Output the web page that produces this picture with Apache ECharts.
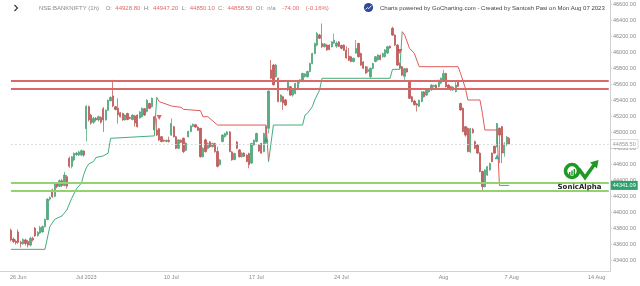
<!DOCTYPE html>
<html><head><meta charset="utf-8">
<script src="https://cdn.jsdelivr.net/npm/echarts@6/dist/echarts.min.js"></script>
<style>html,body{margin:0;padding:0;background:#fff}#c{width:640px;height:286px}</style>
</head><body><div id="c"></div>
<script>
// ---- trading calendar (1h bars, NSE) ----
const tradingDays = ['2023-06-23','2023-06-26','2023-06-27','2023-06-28','2023-06-30',
 '2023-07-03','2023-07-04','2023-07-05','2023-07-06','2023-07-07',
 '2023-07-10','2023-07-11','2023-07-12','2023-07-13','2023-07-14',
 '2023-07-17','2023-07-18','2023-07-19','2023-07-20','2023-07-21',
 '2023-07-24','2023-07-25','2023-07-26','2023-07-27','2023-07-28',
 '2023-07-31','2023-08-01','2023-08-02','2023-08-03','2023-08-04',
 '2023-08-07','2023-08-08','2023-08-09','2023-08-10','2023-08-11','2023-08-14'];
const barTimes = ['09:15','10:15','11:15','12:15','13:15','14:15','15:15'];
const visibleBars = 251;
const firstBar = '2023-06-23 13:15';
const tickLabels = {
 '2023-06-26 09:15':'26 Jun','2023-07-03 09:15':'Jul 2023','2023-07-10 09:15':'10 Jul',
 '2023-07-17 09:15':'17 Jul','2023-07-24 09:15':'24 Jul','2023-08-01 09:15':'Aug',
 '2023-08-07 09:15':'7 Aug','2023-08-14 09:15':'14 Aug'};
const yTicks = [43400,43600,43800,44000,44200,44400,44600,44800,45000,45200,45400,45600,45800,46000,46200,46400,46600];

// ---- OHLC [open, close, low, high] per 1h bar, by week ----
const wkJun23 = [
 [43780,43660,43640,43800],[43670,43640,43620,43690],[43645,43625,43600,43665],
 [43760,43630,43610,43790],[43630,43615,43565,43650],[43610,43665,43600,43680],[43660,43615,43590,43675],
 [43640,43595,43565,43660],[43595,43680,43580,43700],[43680,43660,43640,43700],
 [43805,43710,43700,43820],[43715,43755,43700,43770],[43745,43815,43735,43835],[43760,43825,43750,43840],
 [43825,43915,43815,43925],[43915,44170,43905,44180],[44170,44190,44150,44205],
 [44285,44200,44185,44300],[44205,44360,44195,44380],[44360,44325,44305,44375],[44330,44400,44320,44415],
 [44400,44340,44320,44420],[44340,44470,44330,44510],[44450,44330,44300,44470],
 [44680,44580,44560,44700],[44580,44700,44555,44710],[44660,44740,44640,44755],[44725,44745,44710,44760],
 [44720,44760,44710,44775],[44720,44775,44710,44790],[44770,44720,44700,44780]];
const wkJul03 = [
 [45050,45330,44890,45345],[45325,45160,45140,45340],[45220,45120,45100,45235],[45130,45180,45110,45200],
 [45180,45160,45140,45195],[45160,45200,45140,45215],[45190,45130,45115,45205],
 [45300,45160,45010,45320],[45160,45280,45150,45290],[45280,45405,45270,45415],[45400,45440,45390,45455],
 [45460,45335,45320,45660],[45325,45290,45280,45335],[45305,45225,45115,45430],
 [45250,45200,45190,45260],[45240,45160,45150,45250],[45160,45220,45150,45230],[45240,45165,45155,45250],
 [45190,45180,45170,45200],[45165,45220,45155,45230],[45210,45120,45075,45220],
 [45220,45075,45065,45230],[45185,45260,45175,45270],[45200,45305,45190,45315],[45300,45220,45210,45310],
 [45265,45405,45255,45420],[45365,45305,45295,45375],[45325,45430,45315,45440],
 [45200,45035,45020,45210],[45035,44970,44960,45180],[45050,44910,44895,45060],[44950,44890,44880,44960],
 [44905,44895,44885,44915],[44890,44905,44880,44915],[44905,44890,44875,44950]];
const wkJul10 = [
 [44970,45115,44960,45180],[45075,44950,44940,45085],[44950,44805,44795,44960],[44805,44910,44795,44920],
 [44905,44880,44870,44915],[44930,44765,44745,44940],[44780,44870,44770,44880],
 [44950,45015,44940,45025],[45015,45085,45005,45095],[45080,45105,45070,45115],[45100,45070,45060,45110],
 [45070,45030,45020,45080],[45055,44700,44690,45060],[44700,44805,44690,44820],
 [44910,44765,44750,44925],[44805,44865,44790,44880],[44885,44825,44810,44895],[44825,44865,44815,44875],
 [44865,44765,44750,44875],[44765,44580,44565,44825],[44600,44660,44590,44670],
 [44890,44970,44880,44980],[44950,44990,44940,45000],[44975,45010,44965,45020],[45010,44765,44755,45020],
 [44760,44660,44650,44770],[44665,44740,44655,44750],[44885,44805,44795,44895],
 [44785,44700,44690,44795],[44700,44745,44690,44755],[44745,44705,44695,44755],[44720,44640,44630,44730],
 [44740,44600,44555,44750],[44620,44865,44610,44875],[44845,44905,44840,44915]];
const wkJul17 = [
 [44890,44990,44880,45000],[44845,44770,44760,44855],[44865,44745,44735,44875],[44765,44990,44755,45000],
 [44870,45075,44860,45090],[45055,45520,44990,45530],[45785,45680,45670,45910],
 [45845,45600,45590,45860],[45700,45845,45690,45860],[45680,45390,45380,45690],[45390,45470,45380,45480],
 [45450,45370,45285,45460],[45410,45345,45335,45420],[45535,45640,45520,45650],
 [45575,45470,45460,45585],[45470,45535,45450,45545],[45490,45615,45480,45625],[45555,45640,45545,45650],
 [45640,45660,45615,45670],[45640,45740,45630,45750],[45700,45735,45690,45745],
 [45700,45765,45690,45775],[45765,45865,45755,45875],[45865,45990,45855,46000],[45990,46115,45980,46125],
 [46095,46240,46080,46260],[46220,46180,46170,46235],[46115,46075,46060,46365],
 [46075,46110,46065,46120],[46095,46035,46025,46105],[46095,46040,46030,46105],[46075,46135,46065,46145],
 [46120,46155,46110,46240],[46080,46120,46060,46140],[46135,46080,46070,46145]];
const wkJul24 = [
 [46090,46055,46040,46100],[46095,46030,46020,46105],[46030,45935,45925,46080],[45955,45905,45895,46060],
 [45950,45890,45880,45960],[45890,45930,45880,45940],[45995,46055,45985,46160],
 [46115,45950,45940,46125],[45990,45845,45835,46000],[45885,45805,45795,45895],[45825,45745,45735,45835],
 [45765,45790,45750,45830],[45700,45805,45680,45815],[45805,45865,45795,45875],
 [45890,45950,45880,45960],[45910,45970,45900,45980],[45965,45915,45905,45980],[45950,45990,45940,46000],
 [45950,46035,45940,46045],[45995,46075,45985,46085],[46080,46060,46050,46090],
 [46305,46220,46210,46325],[46220,46095,46085,46230],[46095,45845,45835,46105],[45865,45805,45795,45875],
 [45825,45720,45710,45835],[45705,45800,45660,45810],[45800,45760,45750,45810],
 [45640,45430,45420,45650],[45450,45390,45380,45460],[45395,45350,45340,45410],[45360,45345,45265,45370],
 [45330,45405,45320,45415],[45390,45510,45380,45520],[45510,45450,45440,45520]];
const wkJul31 = [
 [45470,45530,45460,45540],[45510,45550,45500,45560],[45535,45595,45525,45605],[45575,45590,45565,45600],
 [45595,45555,45545,45605],[45575,45655,45565,45665],[45620,45680,45610,45690],
 [45660,45740,45650,45785],[45740,45575,45565,45750],[45595,45555,45545,45605],[45575,45535,45525,45585],
 [45535,45570,45525,45580],[45515,45595,45505,45640],[45640,45580,45570,45650],
 [45365,45285,45275,45375],[45305,45015,45005,45315],[45075,44970,44950,45085],[45055,44765,44755,45065],
 [44760,45050,44745,45060],[45040,45000,44990,45060],[44890,44805,44795,44900],
 [44845,44745,44735,44855],[44745,44515,44505,44755],[44515,44325,44285,44525],[44325,44535,44315,44545],
 [44470,44575,44460,44585],[44535,44615,44525,44625],[44745,44640,44630,44750],
 [44830,44745,44735,44840],[44825,45115,44815,45120],[45055,44970,44620,45065],[45075,44745,44620,45085],
 [44745,44860,44700,44880],[44860,44945,44830,44960],[44928.8,44858.5,44850.1,44947.2]];

// ---- SuperTrend vertices [barIndex from 26 Jun 09:15, value] ----
const stUp1 = [[-3,43542],[11,43542],[13,43825],[15,43917],[18,43959],[20,44034],[22,44180],[24,44300],[26,44370],[27,44480],[28,44560],[29,44609],[31,44640],[32,44690],[35,44710],[37,44745],[38,44930],[56,44960],[57,45442]];
const stDown1 = [[57,45442],[58,45388],[60,45367],[63,45334],[67,45317],[68,45292],[75,45275],[76,45200],[78,45200],[82,45096],[102,45096],[103,44638]];
const stUp2 = [[103,44638],[105,45096],[117,45096],[118,45221],[119,45242],[121,45325],[122,45409],[124,45534],[125,45680],[153,45680],[154,45792],[157,45792],[158,46263]];
const stDown2 = [[158,46263],[159,46221],[161,46055],[163,45992],[165,45825],[181,45825],[182,45742],[184,45555],[185,45409],[190,45409],[191,45242],[192,45034],[197,45034],[198,44341.09]];
const stUp3 = [[198,44341.09],[202,44341.09]];
const buySignals = [[102,44917],[197,44700]];
const sellSignals = [[58,45190],[157,46015]];
const resistance = [45645,45545];
const support = [44370,44270];
const lastClose = 44858.5;
const stLast = 44341.09;

// ---- build ----
const cats = [];
tradingDays.forEach(d => barTimes.forEach(t => cats.push(d + ' ' + t)));
cats.length = visibleBars;
const zero = cats.indexOf('2023-06-26 09:15');
const cat = i => cats[zero + i];
const start = cats.indexOf(firstBar);
const bars = [].concat(wkJun23, wkJul03, wkJul10, wkJul17, wkJul24, wkJul31);
const candleData = cats.map((c, k) => (k >= start && k - start < bars.length) ? bars[k - start] : '-');
const toXY = arr => arr.map(p => [cat(p[0]), p[1]]);
const lastCat = cats[cats.length - 1];
const FONT = 'Liberation Sans, Arial, sans-serif';
const UP = '#44ad7d', DN = '#e25a5a';

function hLine(v, color, w) {
  return [{coord: [firstBar, v], lineStyle: {color, width: w, type: 'solid'}}, {coord: [lastCat, v]}];
}
function stSeries(data, color) {
  return {type: 'line', data: toXY(data), symbol: 'none', animation: false, z: 3,
    lineStyle: {color, width: 1}, silent: true};
}

const option = {
  animation: false,
  backgroundColor: '#fff',
  grid: {left: 0, right: 30, top: 0, bottom: 14.5, containLabel: false, outerBoundsMode: 'none'},
  xAxis: {
    type: 'category', data: cats, boundaryGap: true,
    axisLine: {lineStyle: {color: '#cfd3d8'}},
    axisTick: {alignWithLabel: true, length: 3, interval: (i, v) => tickLabels[v] !== undefined, lineStyle: {color: '#cfd3d8'}},
    axisLabel: {interval: (i, v) => tickLabels[v] !== undefined, formatter: v => tickLabels[v] || '',
      fontSize: 5.5, color: '#888', margin: 2.5, fontFamily: FONT},
    splitLine: {show: false}
  },
  yAxis: {
    type: 'value', position: 'right', min: 43265, max: 46658.75, scale: true,
    axisLine: {show: true, lineStyle: {color: '#cfd3d8'}},
    axisTick: {show: true, length: 2, customValues: yTicks, lineStyle: {color: '#cfd3d8'}},
    axisLabel: {customValues: yTicks, formatter: v => v.toFixed(2), fontSize: 5.5, color: '#888', margin: 3, fontFamily: FONT},
    splitLine: {show: false}
  },
  series: [
    {type: 'candlestick', data: candleData, barWidth: 1.8, z: 2,
      itemStyle: {color: '#3c9d6c', color0: '#b84545', borderColor: '#3c9d6c', borderColor0: '#b84545', borderWidth: 0.8, opacity: 0.85},
      markLine: {symbol: 'none', silent: true, animation: false, z: 4,
        label: {show: false},
        data: [
          hLine(resistance[0], '#d96a6c', 2), hLine(resistance[1], '#d96a6c', 2),
          hLine(support[0], '#93d36f', 1.8), hLine(support[1], '#93d36f', 1.8),
          [{coord: [firstBar, lastClose], lineStyle: {color: '#d6d6d6', width: 0.8, type: [2, 2]},
            label: {show: true, position: 'end', distance: 2, formatter: '44858.50', fontSize: 5.5, fontFamily: FONT,
              color: '#999', backgroundColor: '#fff', borderColor: '#bbb', borderWidth: 0.6, padding: [1, 2]}},
           {coord: [lastCat, lastClose]}]
        ]}
    },
    stSeries(stUp1, UP), stSeries(stDown1, DN), stSeries(stUp2, UP), stSeries(stDown2, DN),
    Object.assign(stSeries(stUp3, UP), {markLine: {symbol: 'none', silent: true, animation: false,
      data: [[{coord: [cats[cats.length - 2], stLast], lineStyle: {color: 'rgba(0,0,0,0)', width: 0},
        label: {show: true, position: 'end', distance: 2, formatter: '44341.09', fontSize: 5.5, fontFamily: FONT,
          color: '#fff', backgroundColor: '#31a06f', padding: [1.5, 2]}},
        {coord: [lastCat, stLast]}]]}}),
    {type: 'scatter', data: toXY(buySignals), symbol: 'triangle', symbolSize: 5, z: 5,
      itemStyle: {color: '#1f9e8a'}, silent: true},
    {type: 'scatter', data: toXY(sellSignals), symbol: 'triangle', symbolRotate: 180, symbolSize: 5, z: 5,
      itemStyle: {color: '#d43b3b'}, silent: true}
  ],
  graphic: [
    {type: 'polyline', shape: {points: [[14.5, 5], [17.5, 8], [14.5, 11]]}, style: {stroke: '#333', lineWidth: 1.1, fill: null}},
    {type: 'text', x: 39, y: 8, style: {
      text: '{g|NSE:BANKNIFTY (1h)}  {g|O:} {r|44928.80} {g|H:} {r|44947.20} {g|L:} {r|44850.10} {g|C:} {r|44858.50} {g|OI:} {g|n/a}  {r|-74.00}  {r|(-0.16%)}',
      verticalAlign: 'middle',
      rich: {g: {fill: '#8a8a8a', fontSize: 6, fontFamily: FONT}, r: {fill: '#e06a6a', fontSize: 6, fontFamily: FONT}}}},
    {type: 'circle', shape: {cx: 368.5, cy: 7.5, r: 4.6}, style: {fill: '#2c4b9c'}},
    {type: 'polyline', shape: {points: [[365.6, 9.4], [367.4, 7.6], [368.8, 8.6], [371.4, 5.6]]}, style: {stroke: '#fff', lineWidth: 0.9, fill: null}},
    {type: 'text', x: 380, y: 8, style: {text: 'Charts powered by GoCharting.com - Created by Santosh Pasi on Mon Aug 07 2023',
      fill: '#444', fontSize: 6, fontFamily: FONT, verticalAlign: 'middle'}},
    // SonicAlpha watermark logo
    {type: 'circle', shape: {cx: 572, cy: 171, r: 6.5}, style: {fill: null, stroke: '#1e9a22', lineWidth: 3.6}, z: 10},
    {type: 'rect', shape: {x: 569, y: 172, width: 1.4, height: 3}, style: {fill: '#1e9a22'}, z: 10},
    {type: 'rect', shape: {x: 571.3, y: 170.5, width: 1.4, height: 4.5}, style: {fill: '#1e9a22'}, z: 10},
    {type: 'rect', shape: {x: 573.6, y: 169, width: 1.4, height: 6}, style: {fill: '#1e9a22'}, z: 10},
    {type: 'polyline', shape: {points: [[578.5, 168.5], [585, 177.5], [594, 165]]}, style: {stroke: '#1e9a22', lineWidth: 3.6, fill: null}, z: 10},
    {type: 'polygon', shape: {points: [[590, 162.5], [598.5, 160], [597, 168.5]]}, style: {fill: '#1e9a22'}, z: 10},
    {type: 'text', x: 579.5, y: 187, style: {text: 'SonicAlpha', fill: '#222', fontSize: 7, fontWeight: 'bold',
      fontFamily: 'DejaVu Sans, sans-serif', align: 'center', verticalAlign: 'middle'}, z: 10}
  ]
};
const chart = echarts.init(document.getElementById('c'), null, {renderer: 'canvas'});
chart.setOption(option);
</script></body></html>
